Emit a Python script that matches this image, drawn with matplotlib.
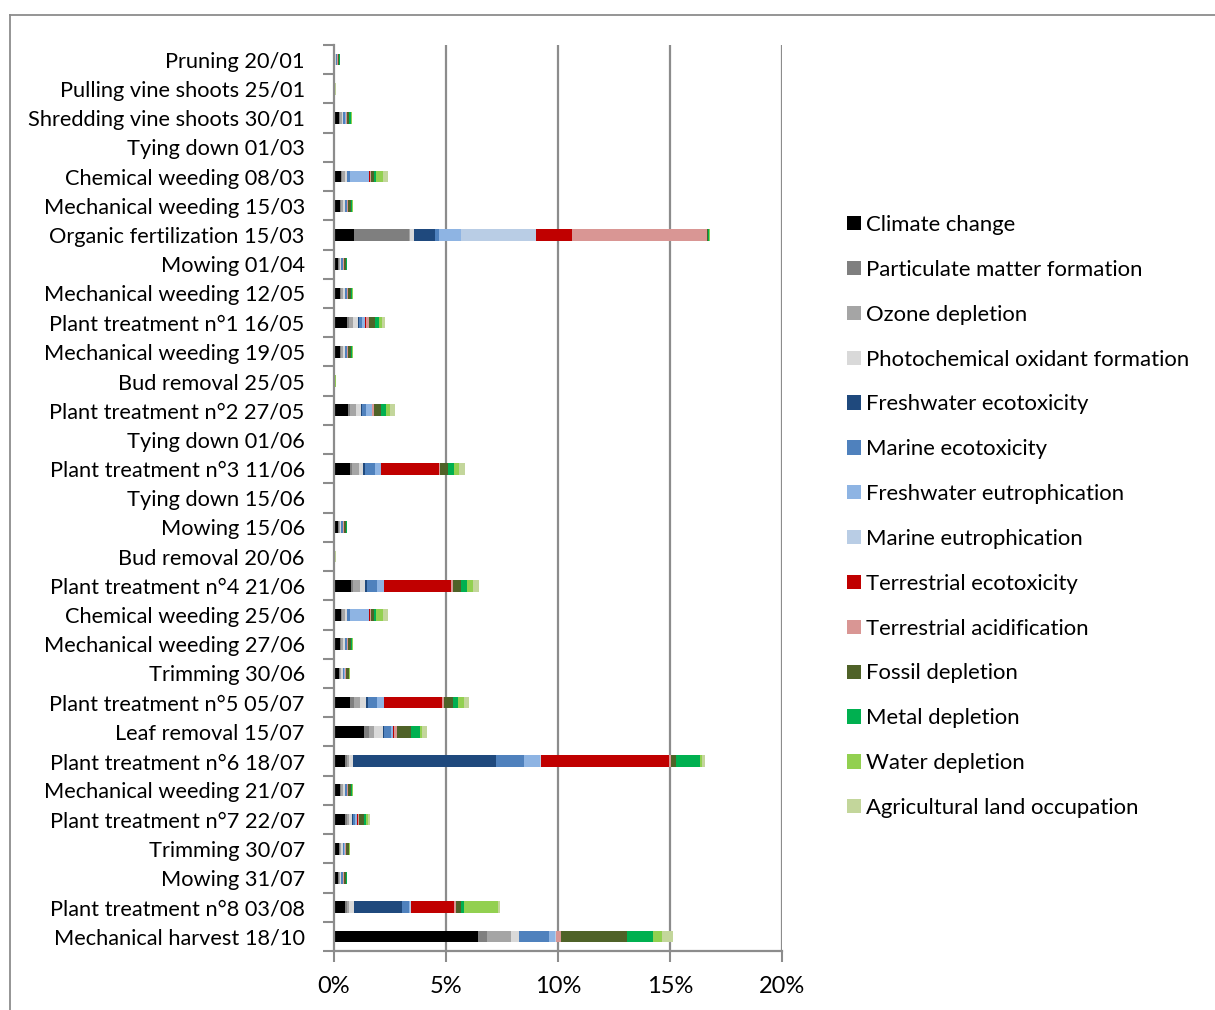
import matplotlib
matplotlib.use("Agg")
import matplotlib.pyplot as plt
from matplotlib.patches import Patch
from matplotlib.lines import Line2D
import numpy as np

plt.rcParams['font.family'] = ['Lato', 'DejaVu Sans']

categories = [
    "Pruning 20/01", "Pulling vine shoots 25/01", "Shredding vine shoots 30/01",
    "Tying down 01/03", "Chemical weeding 08/03", "Mechanical weeding 15/03",
    "Organic fertilization 15/03", "Mowing 01/04", "Mechanical weeding 12/05",
    "Plant treatment n°1 16/05", "Mechanical weeding 19/05", "Bud removal 25/05",
    "Plant treatment n°2 27/05", "Tying down 01/06", "Plant treatment n°3 11/06",
    "Tying down 15/06", "Mowing 15/06", "Bud removal 20/06",
    "Plant treatment n°4 21/06", "Chemical weeding 25/06", "Mechanical weeding 27/06",
    "Trimming 30/06", "Plant treatment n°5 05/07", "Leaf removal 15/07",
    "Plant treatment n°6 18/07", "Mechanical weeding 21/07", "Plant treatment n°7 22/07",
    "Trimming 30/07", "Mowing 31/07", "Plant treatment n°8 03/08",
    "Mechanical harvest 18/10",
]

# values in % (top-to-bottom order of categories)
climate_change = [0, 0, 0.24, 0, 0.33, 0.27, 0.89, 0.18, 0.27, 0.58, 0.27, 0, 0.64, 0, 0.73, 0, 0.18, 0, 0.74, 0.33, 0.27, 0.22, 0.73, 1.34, 0.49, 0.27, 0.49, 0.22, 0.18, 0.49, 6.42]
particulate_matter = [0.02, 0, 0.04, 0, 0.04, 0.04, 2.47, 0.04, 0.04, 0.07, 0.04, 0, 0.09, 0, 0.09, 0, 0.04, 0, 0.09, 0.04, 0.04, 0.04, 0.15, 0.22, 0.07, 0.04, 0.07, 0.04, 0.04, 0.07, 0.42]
ozone_depletion = [0.03, 0, 0.07, 0, 0.12, 0.07, 0.05, 0.06, 0.07, 0.19, 0.07, 0, 0.25, 0, 0.30, 0, 0.06, 0, 0.34, 0.12, 0.07, 0.07, 0.30, 0.22, 0.09, 0.07, 0.09, 0.07, 0.06, 0.09, 1.07]
photochemical_oxidant = [0.02, 0, 0.07, 0, 0.07, 0.09, 0.15, 0.04, 0.09, 0.21, 0.09, 0, 0.21, 0, 0.19, 0, 0.04, 0, 0.21, 0.07, 0.09, 0.06, 0.24, 0.42, 0.20, 0.09, 0.16, 0.06, 0.04, 0.25, 0.36]
freshwater_ecotox = [0, 0, 0, 0, 0.01, 0, 0.95, 0, 0, 0.06, 0, 0, 0.04, 0, 0.07, 0, 0, 0, 0.10, 0.01, 0, 0, 0.10, 0.01, 6.40, 0, 0.03, 0, 0, 2.15, 0]
marine_ecotox = [0.05, 0, 0.06, 0, 0.15, 0.09, 0.16, 0.06, 0.09, 0.16, 0.09, 0, 0.21, 0, 0.45, 0, 0.06, 0, 0.45, 0.15, 0.09, 0.07, 0.42, 0.33, 1.25, 0.09, 0.09, 0.07, 0.06, 0.30, 1.34]
freshwater_eutro = [0.02, 0, 0.04, 0, 0.86, 0.04, 1.00, 0.04, 0.04, 0.12, 0.04, 0, 0.24, 0, 0.25, 0, 0.04, 0, 0.28, 0.86, 0.04, 0.04, 0.27, 0.10, 0.70, 0.04, 0.10, 0.04, 0.04, 0.06, 0.25]
marine_eutro = [0, 0, 0, 0, 0, 0, 3.36, 0, 0, 0, 0, 0, 0, 0, 0.03, 0, 0, 0, 0.04, 0, 0, 0, 0.02, 0, 0.02, 0, 0, 0, 0, 0.02, 0.03]
terrestrial_ecotox = [0, 0, 0, 0, 0.03, 0, 1.58, 0, 0, 0.03, 0, 0, 0.01, 0, 2.57, 0, 0, 0, 2.97, 0.03, 0, 0, 2.57, 0.03, 5.75, 0, 0.04, 0, 0, 1.92, 0.04]
terrestrial_acid = [0.04, 0, 0.04, 0, 0.03, 0.04, 6.05, 0.02, 0.04, 0.13, 0.04, 0, 0.09, 0, 0.07, 0, 0.02, 0, 0.09, 0.03, 0.04, 0.03, 0.13, 0.15, 0.07, 0.04, 0.06, 0.03, 0.02, 0.10, 0.21]
fossil_depletion = [0.03, 0.02, 0.10, 0.01, 0.15, 0.10, 0.05, 0.09, 0.10, 0.27, 0.10, 0.03, 0.33, 0.01, 0.34, 0.01, 0.09, 0.02, 0.36, 0.15, 0.10, 0.12, 0.37, 0.62, 0.25, 0.10, 0.22, 0.12, 0.09, 0.24, 2.96]
metal_depletion = [0.06, 0.01, 0.10, 0, 0.07, 0.07, 0.05, 0.06, 0.07, 0.18, 0.07, 0.02, 0.21, 0.01, 0.25, 0.01, 0.06, 0.02, 0.25, 0.07, 0.07, 0.04, 0.25, 0.39, 1.07, 0.07, 0.10, 0.04, 0.06, 0.12, 1.16]
water_depletion = [0.02, 0.03, 0.04, 0.01, 0.31, 0.03, 0.02, 0.01, 0.03, 0.13, 0.03, 0.03, 0.18, 0.01, 0.24, 0.01, 0.01, 0.02, 0.27, 0.31, 0.03, 0.02, 0.24, 0.09, 0.07, 0.03, 0.09, 0.02, 0.01, 1.49, 0.37]
agri_land = [0, 0.01, 0, 0.01, 0.22, 0, 0.01, 0, 0, 0.15, 0, 0.02, 0.21, 0.01, 0.25, 0.01, 0, 0.02, 0.27, 0.22, 0, 0, 0.25, 0.21, 0.15, 0, 0.07, 0, 0, 0.09, 0.50]

series_names = [
    "Climate change", "Particulate matter formation", "Ozone depletion",
    "Photochemical oxidant formation", "Freshwater ecotoxicity", "Marine ecotoxicity",
    "Freshwater eutrophication", "Marine eutrophication", "Terrestrial ecotoxicity",
    "Terrestrial acidification", "Fossil depletion", "Metal depletion",
    "Water depletion", "Agricultural land occupation",
]
series_values = [
    climate_change, particulate_matter, ozone_depletion, photochemical_oxidant,
    freshwater_ecotox, marine_ecotox, freshwater_eutro, marine_eutro,
    terrestrial_ecotox, terrestrial_acid, fossil_depletion, metal_depletion,
    water_depletion, agri_land,
]
colors = [
    "#000000", "#7f7f7f", "#a5a5a5", "#d9d9d9", "#1f497d", "#4f81bd", "#8eb4e3",
    "#b9cde5", "#c00000", "#d99694", "#4f6228", "#00b050", "#92d050", "#c3d69b",
]

W, H = 1215, 1010
fig = plt.figure(figsize=(W / 100, H / 100), dpi=100)
ax = fig.add_axes([334 / W, 1 - 951 / H, (782 - 334) / W, (951 - 45) / H])

y = np.arange(len(categories))
left = np.zeros(len(categories))
handles = []
for name, vals, c in zip(series_names, series_values, colors):
    v = np.array(vals, dtype=float)
    ax.barh(y, v, left=left, height=0.4, color=c, edgecolor='none', label=name, zorder=3)
    left += v
    handles.append(Patch(facecolor=c, edgecolor='none', label=name))

ax.set_xlim(0, 20)
ax.set_ylim(len(categories) - 0.5, -0.5)

grid_c = "#8c8c8c"
ax.set_xticks([0, 5, 10, 15, 20])
ax.set_xticklabels(["0%", "5%", "10%", "15%", "20%"], fontsize=17)
for xv in [5, 10, 15, 20]:
    ax.axvline(xv, color=grid_c, lw=1.6, zorder=1)

ax.set_yticks(y)
ax.set_yticklabels(categories, fontsize=15.7)
ax.set_yticks(np.arange(-0.5, len(categories) + 0.5, 1), minor=True)
ax.tick_params(axis='y', which='major', length=0, pad=21)
ax.tick_params(axis='y', which='minor', length=8, width=1.5, color=grid_c, direction='out')
ax.tick_params(axis='x', which='major', length=8, width=1.5, color=grid_c, direction='out', pad=10)

for s in ['top', 'right']:
    ax.spines[s].set_visible(False)
for s in ['left', 'bottom']:
    ax.spines[s].set_color(grid_c)
    ax.spines[s].set_linewidth(1.6)
    ax.spines[s].set_zorder(4)

leg = fig.legend(handles=handles, loc='upper left',
                 bbox_to_anchor=(847 / W, 1 - 215 / H), frameon=False,
                 fontsize=15.9, handlelength=0.62, handleheight=0.62,
                 handletextpad=0.25, labelspacing=1.125, borderpad=0, borderaxespad=0)

# outer chart frame (partially cropped)
fig.add_artist(Line2D([10 / W, 1.0], [1 - 15 / H, 1 - 15 / H], color="#8c8c8c", lw=1.3,
                      transform=fig.transFigure))
fig.add_artist(Line2D([10 / W, 10 / W], [0, 1 - 15 / H], color="#8c8c8c", lw=1.3,
                      transform=fig.transFigure))

fig.savefig("out.png", dpi=100, facecolor='white')
